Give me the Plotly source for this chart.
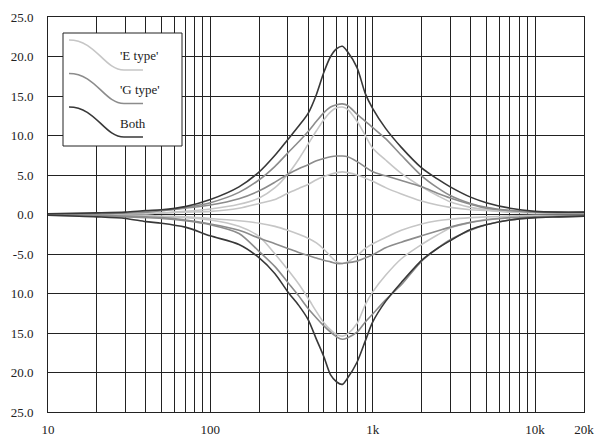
# EQ response curves for the 'E type' / 'G type' / Both mid band
import plotly.graph_objects as go

# Frequencies the curves were read at (Hz)
freqs = [10, 20, 30, 40, 50, 70, 100, 150, 200, 250, 300, 350, 400, 450, 500, 550,
         600, 650, 700, 800, 900, 1000, 1200, 1500, 2000, 2500, 3000, 4000, 5000,
         7000, 10000, 14000, 20000]

# Gain in dB
e_boost_hi = [0.0, 0.0, 0.1, 0.2, 0.2, 0.4, 0.7, 1.3, 2.1, 3.4, 5.1, 7.0, 8.9, 10.6, 12.0, 13.0,
              13.5, 13.6, 13.3, 11.8, 10.0, 8.4, 6.9, 5.2, 3.5, 2.4, 1.6, 0.9, 0.6,
              0.3, 0.3, 0.3, 0.3]
e_boost_lo = [0.0, 0.0, 0.1, 0.1, 0.2, 0.3, 0.4, 0.8, 1.4, 1.9, 2.7, 3.3, 3.8, 4.4, 4.8, 5.1,
              5.3, 5.4, 5.3, 5.0, 4.6, 4.2, 3.4, 2.6, 1.7, 1.2, 0.9, 0.6, 0.5,
              0.3, 0.2, 0.2, 0.2]
e_cut_lo = [0.0, -0.1, -0.1, -0.1, -0.2, -0.3, -0.5, -0.8, -1.1, -1.5, -2.0, -2.5, -3.0, -3.6,
            -4.4, -5.3, -6.0, -6.2, -6.0, -5.2, -4.3, -3.7, -2.9, -2.0, -1.2, -0.8, -0.6,
            -0.4, -0.3, -0.2, -0.1, -0.1, -0.1]
e_cut_hi = [-0.1, -0.1, -0.2, -0.2, -0.3, -0.4, -0.7, -1.5, -2.8, -5.0, -7.0, -8.8, -10.6,
            -12.3, -13.7, -14.6, -15.2, -15.4, -15.1, -13.8, -11.4, -9.8, -7.7, -5.6, -3.8,
            -2.6, -1.7, -1.0, -0.6, -0.4, -0.3, -0.2, -0.2]

g_boost_hi = [0.0, 0.1, 0.2, 0.4, 0.5, 0.9, 1.5, 2.8, 4.4, 6.1, 7.8, 9.2, 10.5, 11.8, 12.9, 13.6,
              13.9, 14.0, 13.8, 12.7, 11.8, 11.0, 9.6, 7.5, 4.9, 3.4, 2.4, 1.4, 0.9,
              0.5, 0.3, 0.3, 0.3]
g_boost_lo = [0.0, 0.1, 0.2, 0.3, 0.5, 0.8, 1.2, 2.0, 3.0, 4.1, 5.1, 5.8, 6.3, 6.8, 7.1, 7.3,
              7.4, 7.4, 7.3, 6.7, 6.0, 5.4, 4.9, 4.3, 3.5, 2.7, 2.1, 1.3, 0.8,
              0.5, 0.3, 0.2, 0.2]
g_cut_lo = [-0.1, -0.1, -0.2, -0.3, -0.4, -0.7, -1.2, -2.0, -3.0, -3.7, -4.3, -4.8, -5.2, -5.5,
            -5.8, -6.0, -6.2, -6.2, -6.1, -5.9, -5.5, -5.1, -4.2, -3.5, -2.7, -2.1, -1.6,
            -1.0, -0.7, -0.4, -0.3, -0.2, -0.2]
g_cut_hi = [-0.1, -0.2, -0.3, -0.4, -0.5, -0.8, -1.3, -2.4, -4.7, -6.6, -8.6, -10.3, -11.9,
            -13.1, -14.1, -14.9, -15.5, -15.8, -15.6, -14.9, -13.6, -12.6, -10.8, -8.9, -5.9,
            -4.3, -3.2, -2.0, -1.3, -0.7, -0.4, -0.3, -0.2]

both_boost = [0.1, 0.2, 0.3, 0.5, 0.6, 1.0, 1.9, 3.5, 5.4, 7.5, 9.5, 11.2, 12.8, 15.2, 18.0, 20.0,
              21.0, 21.3, 20.6, 18.6, 15.3, 13.4, 10.9, 8.5, 5.9, 4.5, 3.5, 2.2, 1.5,
              0.8, 0.4, 0.3, 0.3]
both_cut = [-0.1, -0.3, -0.5, -0.9, -1.1, -1.6, -2.7, -3.8, -5.5, -7.5, -9.8, -11.5, -13.3,
            -15.8, -18.0, -20.3, -21.2, -21.5, -20.7, -18.7, -16.0, -13.6, -11.0, -8.6, -5.8,
            -4.3, -3.3, -1.9, -1.3, -0.7, -0.4, -0.3, -0.2]

x_ticks = [10, 100, 1000, 10000, 20000]
x_labels = ["10", "100", "1k", "10k", "20k"]
x_minor = [20, 30, 40, 50, 60, 70, 80, 90,
           200, 300, 400, 500, 600, 700, 800, 900,
           2000, 3000, 4000, 5000, 6000, 7000, 8000, 9000]
y_ticks = [-25, -20, -15, -10, -5, 0, 5, 10, 15, 20, 25]
y_labels = ["25.0", "20.0", "15.0", "10.0", "-5.0", "0.0", "5.0", "10.0", "15.0", "20.0", "25.0"]

legend_names = ["'E type'", "'G type'", "Both"]
colors = {"'E type'": "#c6c6c6", "'G type'": "#8c8c8c", "Both": "#383838"}

series = [
    ("'E type'", e_boost_hi), ("'E type'", e_boost_lo), ("'E type'", e_cut_lo), ("'E type'", e_cut_hi),
    ("'G type'", g_boost_hi), ("'G type'", g_boost_lo), ("'G type'", g_cut_lo), ("'G type'", g_cut_hi),
    ("Both", both_boost), ("Both", both_cut),
]

fig = go.Figure()
for name, vals in series:
    fig.add_trace(go.Scatter(x=freqs, y=vals, mode="lines", name=name, showlegend=False,
                             line=dict(color=colors[name], width=1.6, shape="spline", smoothing=0.8)))

# plot area in pixels, used to place the hand drawn legend
L, R, T, B = 48, 584, 17, 412


def px(x):
    return (x - L) / (R - L)


def py(y):
    return (B - y) / (B - T)


shapes = [dict(type="rect", xref="paper", yref="paper", x0=px(63), x1=px(182), y0=py(33), y1=py(146),
               fillcolor="white", line=dict(color="#222", width=1), layer="above")]
annotations = []
for i, name in enumerate(legend_names):
    top = 40 + i * 33.5
    bot = top + 30
    x0, x1 = 69, 143
    path = "M {:.4f} {:.4f} C {:.4f} {:.4f} {:.4f} {:.4f} {:.4f} {:.4f} L {:.4f} {:.4f}".format(
        px(x0), py(top), px(96), py(top), px(104), py(bot), px(124), py(bot), px(x1), py(bot))
    shapes.append(dict(type="path", xref="paper", yref="paper", path=path,
                       line=dict(color=colors[name], width=1.6), layer="above"))
    annotations.append(dict(xref="paper", yref="paper", x=px(118), y=py(top + 16), text=name,
                            showarrow=False, xanchor="left", yanchor="middle",
                            font=dict(family="Liberation Serif", size=13, color="#222")))

fig.update_layout(
    width=595, height=436,
    margin=dict(l=L, r=595 - R, t=T, b=436 - B, autoexpand=False),
    paper_bgcolor="white", plot_bgcolor="white",
    font=dict(family="Liberation Serif", size=13, color="#222"),
    shapes=shapes, annotations=annotations,
    showlegend=False,
)
fig.update_xaxes(type="log", range=[1, 4.30103], tickvals=x_ticks, ticktext=x_labels, automargin=False,
                 showgrid=True, gridcolor="#222", gridwidth=1,
                 minor=dict(tickvals=x_minor, showgrid=True, gridcolor="#222", gridwidth=1, ticklen=0),
                 ticks="outside", ticklen=5, tickcolor="rgba(0,0,0,0)",
                 showline=True, mirror=True, linecolor="#222", linewidth=1, zeroline=False)
fig.update_yaxes(range=[-25, 25], tickvals=y_ticks, ticktext=y_labels, automargin=False,
                 showgrid=True, gridcolor="#222", gridwidth=1,
                 ticks="outside", ticklen=11, tickcolor="rgba(0,0,0,0)",
                 showline=True, mirror=True, linecolor="#222", linewidth=1, zeroline=False)

# page body has a default 8px margin; drop it so the figure fills the window
fig.write_html("out.html", config={"displayModeBar": False},
               post_script="document.body.style.margin='0';")
